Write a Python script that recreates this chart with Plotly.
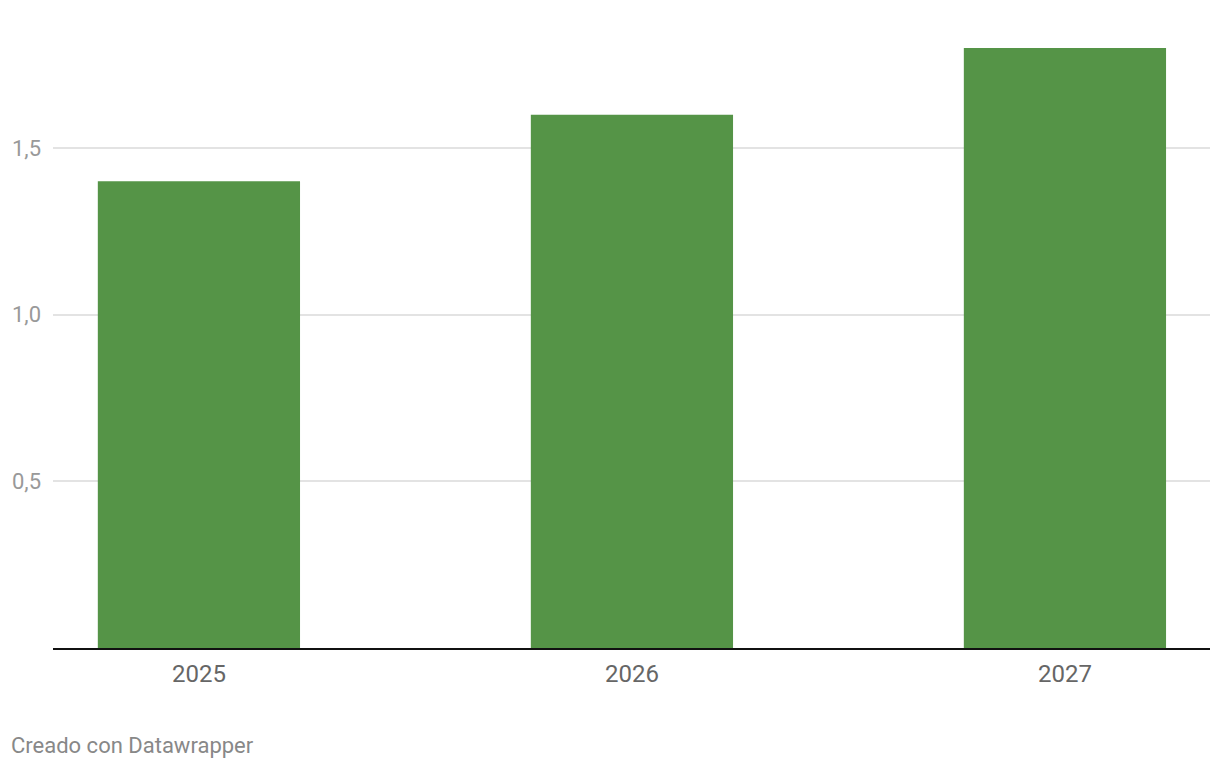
import plotly.graph_objects as go

years = ["2025", "2026", "2027"]
values = [1.4, 1.6, 1.8]
y_ticks = [0.5, 1.0, 1.5]
y_tick_labels = ["0,5", "1,0", "1,5"]
footer = "Creado con Datawrapper"

fig = go.Figure()
fig.add_trace(go.Bar(
    x=years, y=values, width=0.467,
    marker=dict(color="#559447", line=dict(width=0)),
    hoverinfo="x+y",
))

fig.update_layout(
    width=1204, height=754,
    margin=dict(l=45, r=2, t=12, b=114, pad=0),
    paper_bgcolor="white", plot_bgcolor="white",
    font=dict(family="Roboto", color="#777777"),
    showlegend=False,
    separators=",.",
    xaxis=dict(
        type="category", range=[-0.337, 2.335],
        showgrid=False, showline=True, linecolor="#111111", linewidth=2,
        ticks="", tickfont=dict(size=24, color="#666666"),
        ticklabelstandoff=3, fixedrange=True,
    ),
    yaxis=dict(
        range=[0, 1.884], tickvals=y_ticks, ticktext=y_tick_labels,
        showgrid=True, gridcolor="#e3e3e3", gridwidth=2,
        zeroline=False, showline=False, ticks="",
        tickfont=dict(size=22, color="#999999"),
        ticklabelstandoff=11, fixedrange=True,
    ),
    annotations=[dict(
        text=footer, xref="paper", yref="paper", x=0, y=-0.156,
        xshift=-44, xanchor="left", yanchor="middle", showarrow=False,
        font=dict(family="Roboto", size=22, color="#888888"),
    )],
)

fig.write_html("out.html")
